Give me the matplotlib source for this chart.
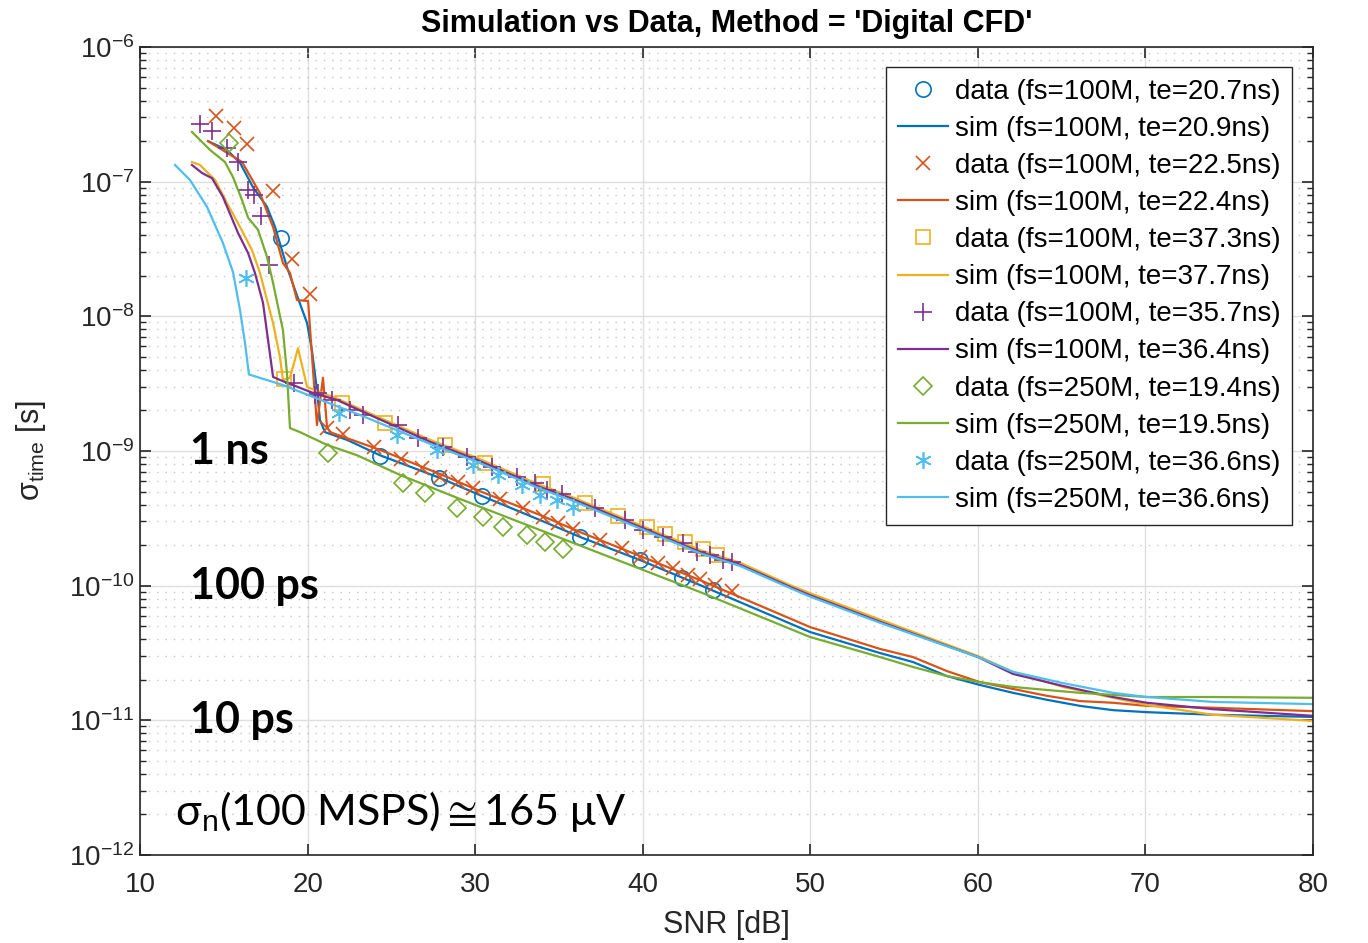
import matplotlib
matplotlib.use("Agg")
import matplotlib.pyplot as plt
from matplotlib.ticker import LogLocator, NullFormatter, MultipleLocator

plt.rcParams['font.family'] = ['Liberation Sans', 'DejaVu Sans']
plt.rcParams['mathtext.fontset'] = 'custom'
plt.rcParams['mathtext.rm'] = 'Liberation Sans'
plt.rcParams['mathtext.it'] = 'Liberation Sans:italic'

# matlab default colours
c_blue = '#0072BD'
c_orange = '#D95319'
c_yellow = '#EDB120'
c_purple = '#7E2F8E'
c_green = '#77AC30'
c_cyan = '#4DBEEE'

# ---- measured data ----
snr_d1 = [18.41, 24.32, 27.84, 30.41, 36.26, 39.84, 42.35, 44.19]
sig_d1 = [3.82e-8, 9.18e-10, 6.3e-10, 4.64e-10, 2.3e-10, 1.55e-10, 1.14e-10, 9.3e-11]

snr_d2 = [14.54, 15.61, 16.39, 17.94, 19.07, 20.15, 21.16, 22.11, 23.96, 25.58, 26.83,
          27.90, 28.98, 29.87, 31.48, 32.86, 34.05, 34.94, 35.84, 37.45, 38.76, 39.84,
          40.91, 41.81, 42.70, 43.42, 44.31, 45.33]
sig_d2 = [3.07e-7, 2.5e-7, 1.9e-7, 8.5e-8, 2.67e-8, 1.47e-8, 1.48e-9, 1.34e-9, 1.07e-9,
          8.7e-10, 7.48e-10, 6.41e-10, 5.89e-10, 5.31e-10, 4.40e-10, 3.78e-10, 3.24e-10,
          2.92e-10, 2.63e-10, 2.18e-10, 1.90e-10, 1.63e-10, 1.47e-10, 1.35e-10, 1.20e-10,
          1.12e-10, 1.01e-10, 9.1e-11]

snr_d3 = [18.59, 22.05, 24.62, 28.20, 30.59, 34.05, 36.56, 38.53, 40.26, 41.33, 42.52,
          43.60, 44.43]
sig_d3 = [3.43e-9, 2.27e-9, 1.61e-9, 1.11e-9, 8.15e-10, 5.69e-10, 4.11e-10, 3.29e-10,
          2.73e-10, 2.42e-10, 2.11e-10, 1.87e-10, 1.69e-10]

snr_d4 = [13.58, 14.30, 15.19, 15.85, 16.45, 16.80, 17.22, 17.70, 19.19, 20.62, 20.44,
          21.46, 22.53, 23.31, 25.40, 26.59, 28.08, 29.51, 31.01, 32.50, 33.57, 34.29,
          35.18, 37.15, 38.94, 40.02, 41.21, 42.40, 43.24, 44.02, 44.79, 45.33]
sig_d4 = [2.68e-7, 2.38e-7, 1.78e-7, 1.40e-7, 8.7e-8, 7.96e-8, 5.56e-8, 2.41e-8, 3.2e-9,
          2.70e-9, 2.61e-9, 2.39e-9, 2.02e-9, 1.85e-9, 1.56e-9, 1.25e-9, 1.07e-9, 9.0e-10,
          7.6e-10, 6.41e-10, 5.78e-10, 5.13e-10, 4.80e-10, 3.78e-10, 3.07e-10, 2.59e-10,
          2.30e-10, 2.07e-10, 1.78e-10, 1.69e-10, 1.55e-10, 1.50e-10]

snr_d5 = [15.31, 21.22, 25.69, 27.01, 28.92, 30.47, 31.66, 33.09, 34.17, 35.24]
sig_d5 = [1.94e-7, 9.67e-10, 5.78e-10, 4.88e-10, 3.78e-10, 3.24e-10, 2.73e-10, 2.38e-10,
          2.11e-10, 1.87e-10]

snr_d6 = [16.33, 21.88, 25.34, 27.72, 29.87, 31.36, 32.80, 33.87, 34.88, 35.84]
sig_d6 = [1.93e-8, 1.91e-9, 1.31e-9, 1.02e-9, 7.87e-10, 6.64e-10, 5.60e-10, 4.71e-10,
          4.33e-10, 3.84e-10]

# ---- simulation ----
snr_s1 = [14.06, 15.19, 15.97, 16.74, 17.58, 18.06, 18.77, 19.25, 19.97, 20.26, 20.56,
          20.74, 21.04, 22.35, 24.32, 27.90, 30.41, 33.87, 36.26, 39.84, 43.42, 49.98,
          54.16, 56.13, 58.16, 60.13, 62.10, 64.13, 66.10, 68.07, 70.09, 74.03, 80.0]
sig_s1 = [2.0e-7, 1.72e-7, 1.38e-7, 9.1e-8, 6.5e-8, 4.6e-8, 2.32e-8, 1.57e-8, 8.9e-9,
          5.6e-9, 2.84e-9, 1.70e-9, 1.38e-9, 1.21e-9, 9.3e-10, 6.31e-10, 4.63e-10, 3.07e-10,
          2.30e-10, 1.55e-10, 1.01e-10, 4.53e-11, 3.16e-11, 2.71e-11, 2.13e-11, 1.83e-11,
          1.60e-11, 1.42e-11, 1.28e-11, 1.19e-11, 1.15e-11, 1.10e-11, 1.06e-11]

snr_s2 = [14.06, 16.09, 17.16, 17.94, 18.53, 18.95, 19.37, 20.03, 20.56, 20.92, 21.16,
          21.34, 24.32, 27.90, 30.41, 33.87, 36.26, 39.84, 43.42, 49.98, 54.16, 56.13,
          58.16, 60.13, 62.10, 64.13, 66.10, 68.07, 70.09, 74.03, 80.0]
sig_s2 = [2.0e-7, 1.40e-7, 8.2e-8, 4.6e-8, 2.49e-8, 2.10e-8, 1.32e-8, 1.30e-8, 1.56e-9,
          3.5e-9, 1.51e-9, 1.38e-9, 1.02e-9, 6.75e-10, 4.96e-10, 3.35e-10, 2.50e-10,
          1.66e-10, 1.10e-10, 4.93e-11, 3.39e-11, 2.95e-11, 2.32e-11, 1.92e-11, 1.71e-11,
          1.52e-11, 1.39e-11, 1.35e-11, 1.28e-11, 1.24e-11, 1.17e-11]

snr_s3 = [13.10, 13.58, 14.48, 15.19, 15.97, 16.68, 17.16, 17.94, 18.35, 18.53, 18.95,
          19.43, 19.97, 21.76, 23.73, 27.31, 30.11, 33.87, 35.66, 39.84, 43.42, 45.81,
          48.79, 49.98, 54.16, 60.01, 62.10, 65.08, 68.07, 70.09, 74.03, 80.0]
sig_s3 = [1.40e-7, 1.33e-7, 1.03e-7, 6.95e-8, 4.6e-8, 3.11e-8, 2.10e-8, 8.9e-9, 5.0e-9,
          3.37e-9, 3.5e-9, 5.8e-9, 2.99e-9, 2.45e-9, 1.90e-9, 1.21e-9, 8.9e-10, 5.6e-10,
          4.62e-10, 2.82e-10, 1.84e-10, 1.48e-10, 1.01e-10, 8.8e-11, 5.6e-11, 3.0e-11,
          2.29e-11, 1.77e-11, 1.47e-11, 1.30e-11, 1.10e-11, 9.9e-12]

snr_s4 = [13.10, 13.70, 14.30, 14.95, 15.85, 16.45, 16.86, 17.34, 17.94, 18.35, 20.32,
          21.76, 23.73, 27.31, 30.11, 33.87, 35.66, 39.84, 43.42, 45.81, 48.79, 49.98,
          54.16, 60.01, 62.10, 65.08, 68.07, 70.09, 74.03, 80.0]
sig_s4 = [1.33e-7, 1.16e-7, 1.06e-7, 7.7e-8, 4.16e-8, 2.95e-8, 2.10e-8, 1.26e-8, 3.55e-9,
          3.37e-9, 2.70e-9, 2.39e-9, 1.85e-9, 1.17e-9, 8.6e-10, 5.4e-10, 4.48e-10, 2.73e-10,
          1.78e-10, 1.43e-10, 9.8e-11, 8.5e-11, 5.4e-11, 2.95e-11, 2.21e-11, 1.80e-11,
          1.49e-11, 1.35e-11, 1.21e-11, 1.08e-11]

snr_s5 = [13.10, 14.18, 15.07, 15.55, 16.09, 16.45, 17.04, 17.58, 17.94, 18.53, 18.77,
          18.95, 19.55, 21.16, 22.95, 25.52, 29.10, 33.87, 43.42, 49.98, 54.16, 56.13,
          58.16, 60.13, 62.10, 64.13, 66.10, 70.09, 74.03, 80.0]
sig_s5 = [2.34e-7, 1.72e-7, 1.40e-7, 1.08e-7, 7.3e-8, 5.4e-8, 4.4e-8, 2.76e-8, 1.77e-8,
          7.9e-9, 3.8e-9, 1.48e-9, 1.38e-9, 1.11e-9, 9.3e-10, 6.64e-10, 4.40e-10, 2.59e-10,
          8.97e-11, 4.16e-11, 2.95e-11, 2.49e-11, 2.13e-11, 1.92e-11, 1.77e-11, 1.68e-11,
          1.60e-11, 1.49e-11, 1.49e-11, 1.47e-11]

snr_s6 = [12.09, 12.98, 14.00, 14.95, 15.55, 15.97, 16.27, 16.50, 18.53, 20.32, 23.13,
          27.31, 30.11, 33.87, 35.66, 39.84, 43.42, 45.81, 48.79, 49.98, 54.16, 60.01,
          62.10, 65.08, 68.07, 70.09, 74.03, 80.0]
sig_s6 = [1.33e-7, 1.03e-7, 6.5e-8, 3.5e-8, 2.13e-8, 1.11e-8, 6.3e-9, 3.7e-9, 3.09e-9,
          2.52e-9, 1.85e-9, 1.13e-9, 8.3e-10, 5.25e-10, 4.35e-10, 2.66e-10, 1.74e-10,
          1.40e-10, 9.6e-11, 8.3e-11, 5.3e-11, 2.95e-11, 2.29e-11, 1.89e-11, 1.60e-11,
          1.49e-11, 1.37e-11, 1.32e-11]

labels = ['data (fs=100M, te=20.7ns)', 'sim (fs=100M, te=20.9ns)',
          'data (fs=100M, te=22.5ns)', 'sim (fs=100M, te=22.4ns)',
          'data (fs=100M, te=37.3ns)', 'sim (fs=100M, te=37.7ns)',
          'data (fs=100M, te=35.7ns)', 'sim (fs=100M, te=36.4ns)',
          'data (fs=250M, te=19.4ns)', 'sim (fs=250M, te=19.5ns)',
          'data (fs=250M, te=36.6ns)', 'sim (fs=250M, te=36.6ns)']

fig = plt.figure(figsize=(13.68, 9.43), dpi=100)
ax = fig.add_axes([140/1368, 1-855/943, 1173/1368, 808/943])

lw = 1.6
mew = 1.2
# (marker, size) per data set, matlab look
mk_style = [('o', 11), ('x', 9.5), ('s', 10), ('+', 12.5), ('D', 9.5), ((6, 2, 0), 12)]
series = [
    (snr_d1, sig_d1, snr_s1, sig_s1, c_blue),
    (snr_d2, sig_d2, snr_s2, sig_s2, c_orange),
    (snr_d3, sig_d3, snr_s3, sig_s3, c_yellow),
    (snr_d4, sig_d4, snr_s4, sig_s4, c_purple),
    (snr_d5, sig_d5, snr_s5, sig_s5, c_green),
    (snr_d6, sig_d6, snr_s6, sig_s6, c_cyan),
]
for i, (xd, yd, xs, ys, col) in enumerate(series):
    mk, size = mk_style[i]
    ax.plot(xd, yd, linestyle='none', marker=mk, markersize=size, mfc='none',
            mec=col, mew=mew, label=labels[2*i])
    ax.plot(xs, ys, color=col, lw=lw, label=labels[2*i+1])

ax.set_yscale('log')
ax.set_xlim(10, 80)
ax.set_ylim(1e-12, 1e-6)
ax.xaxis.set_major_locator(MultipleLocator(10))
ax.yaxis.set_major_locator(LogLocator(base=10, numticks=10))
ax.yaxis.set_minor_locator(LogLocator(base=10, subs=range(2, 10), numticks=100))
ax.yaxis.set_minor_formatter(NullFormatter())

ax.grid(True, which='major', color='#dedede', linewidth=1.0, linestyle='-')
ax.grid(True, which='minor', axis='y', color='#c4c4c4', linewidth=1.0, linestyle=(0, (1, 5)))
ax.set_axisbelow(True)

for s in ax.spines.values():
    s.set_color('#262626')
    s.set_linewidth(1.2)
ax.tick_params(which='both', direction='in', top=True, right=True, colors='#262626',
               labelsize=20, labelcolor='#262626')
ax.tick_params(which='major', length=8, width=1.2)
ax.tick_params(which='minor', length=4.5, width=1.0)
ax.tick_params(axis='x', which='major', pad=12)
ax.tick_params(axis='y', which='major', pad=4)

ax.set_xlabel('SNR [dB]', fontsize=22, color='#262626', labelpad=9)
ax.set_ylabel('σ$_{\\mathrm{time}}$ [s]', fontsize=22, color='#262626', labelpad=15)
ax.set_title("Simulation vs Data, Method = 'Digital CFD'", fontsize=22, fontweight='bold',
             pad=11)

ann = ['Lato', 'DejaVu Sans']
ax.text(13, 1e-9, '1 ns', fontsize=31, fontweight='bold', family=ann, va='center')
ax.text(13, 1e-10, '100 ps', fontsize=31, fontweight='bold', family=ann, va='center')
ax.text(13, 1e-11, '10 ps', fontsize=31, fontweight='bold', family=ann, va='center')
ax.text(12.1, 2.1e-12, r'σ$_{\mathrm{n}}$(100 MSPS)$\cong$165 μV', fontsize=31,
        family=ann, va='center')

leg = ax.legend(loc='upper right', bbox_to_anchor=(1292/1368, 1-67/943),
                bbox_transform=fig.transFigure, fontsize=20, frameon=True, fancybox=False,
                edgecolor='#262626', framealpha=1, labelspacing=0.4, handlelength=1.8,
                borderpad=0.42, handletextpad=0.25, borderaxespad=0)
leg.get_frame().set_linewidth(1.0)

fig.savefig('out.png', dpi=100)
